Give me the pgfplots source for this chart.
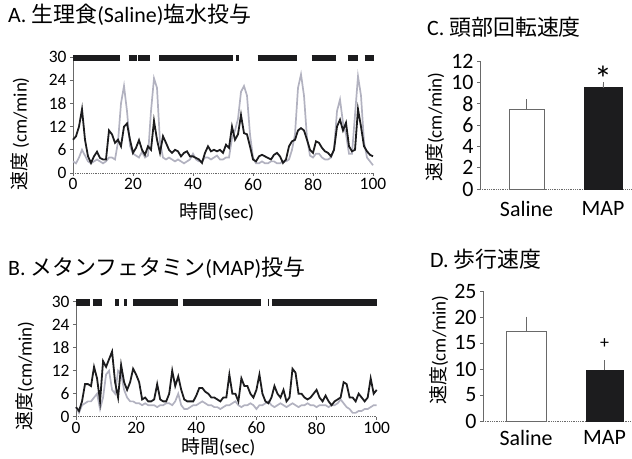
\documentclass[border=0pt]{standalone}
\usepackage{fontspec}
\setmainfont{Carlito}
\newfontfamily\cjk{Noto Sans CJK JP}
\usepackage{pgfplots}
\pgfplotsset{compat=1.18}
\usepackage{pgfplotstable}
\definecolor{blk}{RGB}{28,28,30}
\definecolor{gry}{RGB}{178,178,192}
\definecolor{axc}{RGB}{105,105,105}

\pgfplotstableread{
x blk gry
0 8.6 3
1 9.5 2.5
2 12 4
3 16.5 6
4 8.6 4.5
5 4.3 3
6 2.6 2.5
7 4.3 3
8 5.5 3.5
9 3.9 3
10 3.5 2.5
11 3.5 3
12 11 4
13 10 4
14 7.8 3.5
15 8.6 8
16 6.9 18
17 12 22.5
18 12.8 16
19 8.6 7
20 5.2 5
21 6.5 4.5
22 8.5 4
23 6 5.5
24 4.7 4
25 6.9 4.5
26 6 16
27 13.5 24.5
28 8.6 22
29 5.2 8
30 9.5 4
31 7.8 3.5
32 6 4
33 5.2 3.5
34 6 3
35 5.6 3.5
36 4.3 3
37 5.2 2.5
38 5.6 3
39 4.3 3.5
40 4.3 5
41 3.9 3.5
42 3.5 3
43 2.6 3
44 5.2 4
45 6.9 4
46 5.6 3.5
47 6 4
48 5.6 4.5
49 6 3.5
50 5.2 3.5
51 7.3 4
52 6.5 4
53 12 9
54 8.6 11
55 10 14
56 15 21
57 10.3 22.5
58 10 20
59 6.9 10
60 3.5 4
61 3 2.5
62 4.3 2.5
63 4.7 3
64 4.3 2.5
65 3.9 2.5
66 3.5 3
67 4.7 3
68 5.2 2.5
69 4.3 2.5
70 2.6 3
71 3.5 3
72 6.9 3.5
73 8.2 6
74 8.6 10
75 11 22
76 11.6 25.5
77 11 20
78 8.6 9
79 6 4.5
80 5.2 4
81 8.2 5
82 7.8 5
83 6.5 4
84 5.6 3.5
85 5.2 3.5
86 4.3 4
87 6 6
88 12 16
89 13.8 19
90 11 13
91 13 10
92 6.9 5
93 5.6 5
94 6 15
95 16.5 25
96 12 20
97 6.9 8
98 5.6 4
99 4.7 3
100 4.3 2
}\dataA

\pgfplotstableread{
x blk gry
0 2.5 2.5
1 1.5 1
2 4 3
3 8.5 3.5
4 8.5 4
5 8 4
6 13 5
7 10 6
8 4 2
9 14.5 5
10 13 11
11 15 12
12 17 7
13 9 6
14 5 12
15 13.5 11
16 9 7
17 7 5
18 9 4
19 12.5 4
20 11 3.5
21 9 3.5
22 4.5 3
23 5 3.5
24 4 3
25 4 3
26 4.5 3
27 8.5 2.5
28 4.5 3
29 4 3
30 4 3.5
31 6 3.5
32 12 3
33 8 4
34 10.5 6
35 7 3
36 4.5 2
37 4 2
38 4 2.5
39 4 3
40 5.5 3
41 7.5 3.5
42 7.5 4
43 6.5 3.5
44 6 3
45 5 3
46 5 2.5
47 4.5 2.5
48 4 2
49 5 2.5
50 5 3
51 11 3
52 6 3.5
53 6 4
54 4 3
55 10 2.5
56 8 3
57 8 3
58 6 3.5
59 5 3
60 7 2
61 11 3
62 6 3
63 4 3.5
64 3.5 4
65 5 3
66 8 2.5
67 6 3
68 5 3.5
69 7 3
70 4 2.5
71 5 3
72 12.5 3.5
73 11.5 3
74 6 2.5
75 6 3
76 5 3
77 4.5 3.5
78 5 3
79 6 3
80 7 2.5
81 5 3
82 4 3
83 5.5 3
84 4 2.5
85 3 3
86 4 3
87 4.5 3.5
88 5 4.5
89 9 3.5
90 8.5 2.5
91 5 2
92 5 1
93 4 1
94 6 1.5
95 5 1.5
96 4 2
97 5 2
98 10 2.5
99 6 3
100 7 3
}\dataB

\pgfplotsset{
  common/.style={
    scale only axis,
    axis x line*=bottom, axis y line*=left,
    x axis line style={-, densely dotted, axc, line width=0.8pt},
    y axis line style={-, axc, line width=0.8pt},
    tick align=outside,
    major tick length=3bp,
    tick style={axc, line width=0.6pt},
    /pgf/number format/assume math mode=true,
    clip=false,
  },
  lineax/.style={
    common,
    width=300bp, height=116bp,
    xmin=0, xmax=100, ymin=0, ymax=30,
    xtick={0,20,...,100}, ytick={0,6,...,30},
    ticklabel style={font=\fontsize{17.5}{17.5}\selectfont},
    label style={font=\fontsize{19}{20}\selectfont},
    xticklabel style={yshift=1bp},
  },
  barax/.style={
    common,
    ymin=0,
    xtick={0,1}, xticklabels={Saline,MAP},
    xtick style={draw=none},
    ticklabel style={font=\fontsize{22}{22}\selectfont},
    label style={font=\fontsize{19}{20}\selectfont},
  },
}

\begin{document}
\begin{tikzpicture}
\useasboundingbox (0,0) rectangle (632bp,459bp);

% Titles
\node[anchor=west, inner sep=0, font=\fontsize{22}{24}\selectfont] at (8bp,444bp) {A. {\cjk 生理食}(Saline){\cjk 塩水投与}};
\node[anchor=west, inner sep=0, font=\fontsize{22}{24}\selectfont] at (8bp,191bp) {B. {\cjk メタンフェタミン}(MAP){\cjk 投与}};
\node[anchor=west, inner sep=0, font=\fontsize{22}{24}\selectfont] at (427bp,432bp) {C. {\cjk 頭部回転速度}};
\node[anchor=west, inner sep=0, font=\fontsize{22}{24}\selectfont] at (430bp,200bp) {D. {\cjk 歩行速度}};

% Panel A
\begin{axis}[lineax, at={(73bp,286bp)}, anchor=south west,
  xlabel={{\cjk 時間}(sec)}, ylabel={{\cjk 速度} (cm/min)},
  xlabel style={at={(rel axis cs:0.48,-0.336)}, anchor=center},
  ylabel style={at={(rel axis cs:-0.177,0.336)}, anchor=center}]
\addplot[gry, line width=1.7bp] table[x=x, y=gry] {\dataA};
\addplot[blk, line width=1.8bp] table[x=x, y=blk] {\dataA};
\addplot[blk, line width=6.5bp, unbounded coords=jump] coordinates {
(0,29.8)(15.5,29.8)(15.5,nan)(18.5,29.8)(21.3,29.8)(21.3,nan)(21.8,29.8)(25.5,29.8)(25.5,nan)
(28.8,29.8)(53.4,29.8)(53.4,nan)(54.3,29.8)(55.2,29.8)(55.2,nan)(61.5,29.8)(74.5,29.8)(74.5,nan)
(79.5,29.8)(87.8,29.8)(87.8,nan)(91.5,29.8)(95,29.8)(95,nan)(97.2,29.8)(100.2,29.8)};
\end{axis}

% Panel B
\begin{axis}[lineax, at={(76bp,42.3bp)}, anchor=south west, width=300.7bp, height=115bp,
  xlabel={{\cjk 時間}(sec)}, ylabel={{\cjk 速度}(cm/min)},
  xlabel style={at={(rel axis cs:0.473,-0.262)}, anchor=center},
  ylabel style={at={(rel axis cs:-0.17,0.354)}, anchor=center}]
\addplot[gry, line width=1.7bp] table[x=x, y=gry] {\dataB};
\addplot[blk, line width=1.8bp] table[x=x, y=blk] {\dataB};
\addplot[blk, line width=6.5bp, unbounded coords=jump] coordinates {
(0,29.8)(4.7,29.8)(4.7,nan)(5.5,29.8)(8.6,29.8)(8.6,nan)(13.0,29.8)(14.2,29.8)(14.2,nan)
(15.9,29.8)(16.9,29.8)(16.9,nan)(19.1,29.8)(34.0,29.8)(34.0,nan)(35.5,29.8)(61.4,29.8)(61.4,nan)
(63.7,29.8)(64.3,29.8)(64.3,nan)(65.1,29.8)(100.2,29.8)};
\end{axis}

% Panel C
\begin{axis}[barax, at={(480bp,270bp)}, anchor=south west, width=152bp, height=128bp,
  xmin=-0.608, xmax=1.38, ymax=12, ytick={0,2,...,12},
  xticklabel style={yshift=-6bp},
  ylabel={{\cjk 速度}(cm/min)},
  ylabel style={at={(rel axis cs:-0.296,0.484)}, anchor=center}]
\addplot[ybar, bar width=35bp, bar shift=0pt, fill=white, draw=axc, line width=0.7pt,
  error bars/.cd, y dir=plus, y explicit, error bar style={axc, line width=0.7pt},
  error mark options={axc, mark size=2.5bp, line width=0.7pt}]
  coordinates {(0,7.5) +- (0,0.7)};
\addplot[ybar, bar width=38bp, bar shift=0pt, fill=blk, draw=blk, line width=0.7pt,
  error bars/.cd, y dir=plus, y explicit, error bar style={axc, line width=0.7pt},
  error mark options={axc, mark size=2.5bp, line width=0.7pt}]
  coordinates {(1,9.5) +- (0,0.3)};
\node[font=\fontsize{36}{36}\selectfont, anchor=north, inner sep=0pt] at (axis cs:1,11.5) {*};
\end{axis}

% Panel D
\begin{axis}[barax, at={(483bp,38bp)}, anchor=south west, width=149bp, height=130bp,
  xmin=-0.548, xmax=1.35, ymax=25, ytick={0,5,...,25},
  xticklabel style={yshift=-3bp},
  ylabel={{\cjk 速度}(cm/min)},
  ylabel style={at={(rel axis cs:-0.295,0.546)}, anchor=center}]
\addplot[ybar, bar width=40bp, bar shift=0pt, fill=white, draw=axc, line width=0.7pt,
  error bars/.cd, y dir=plus, y explicit, error bar style={axc, line width=0.7pt},
  error mark options={axc, mark size=2.5bp, line width=0.7pt}]
  coordinates {(0,17.2) +- (0,2.4)};
\addplot[ybar, bar width=37bp, bar shift=0pt, fill=blk, draw=blk, line width=0.7pt,
  error bars/.cd, y dir=plus, y explicit, error bar style={axc, line width=0.7pt},
  error mark options={axc, mark size=2.5bp, line width=0.7pt}]
  coordinates {(1,9.8) +- (0,1.4)};
\node[font=\fontsize{18}{18}\selectfont] at (axis cs:1,14.8) {+};
\end{axis}
\end{tikzpicture}
\end{document}
